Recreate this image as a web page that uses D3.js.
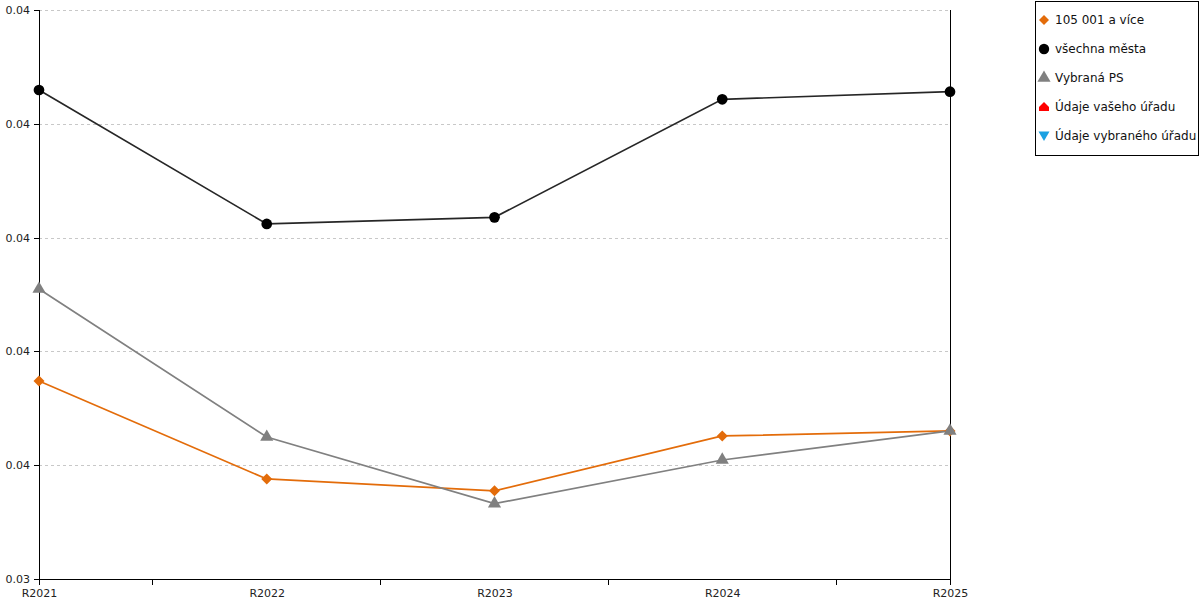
<!DOCTYPE html>
<html><head><meta charset="utf-8">
<script src="https://cdn.jsdelivr.net/npm/d3@7"></script>
<style>body{margin:0;background:#fff;font-family:"DejaVu Sans",Verdana,sans-serif;}</style>
</head><body><svg id="c" width="1200" height="600"></svg>
<script>
const categories = ["R2021","R2022","R2023","R2024","R2025"];
const seriesNames = ["105 001 a více","všechna města","Vybraná PS","Údaje vašeho úřadu","Údaje vybraného úřadu"];
const orangeValues = [0.035740, 0.034879, 0.034775, 0.035257, 0.035301];
const blackValues  = [0.038297, 0.037120, 0.037178, 0.038215, 0.038282];
const greyValues   = [0.036548, 0.035248, 0.034662, 0.035046, 0.035301];
const yTicks = [0.034, 0.035, 0.036, 0.037, 0.038, 0.039];

const svg = d3.select("#c");
const L = 39, R = 950, T = 10, B = 579;
const x = d3.scalePoint().domain(categories).range([L, R]);
const y = d3.scaleLinear().domain([0.034, 0.039]).range([B, T]);
const fmt = d => (Math.round(d*100)/100).toFixed(2);

// grid
svg.append("g").selectAll("line").data(yTicks.slice(1)).join("line")
  .attr("x1", L).attr("x2", R).attr("y1", d => Math.round(y(d))+0.5).attr("y2", d => Math.round(y(d))+0.5)
  .attr("stroke", "#c8c8c8").attr("stroke-dasharray", "3,3");

// y axis
const ya = svg.append("g").attr("transform", `translate(${L},0)`)
  .call(d3.axisLeft(y).tickValues(yTicks).tickFormat(fmt).tickSize(5).tickPadding(4));
ya.selectAll("text").attr("font-size", 11).attr("fill", "#222").attr("font-family","DejaVu Sans");
ya.select(".domain").attr("d", `M0,${T}V${B+6}`);
ya.selectAll("line,path").attr("shape-rendering","crispEdges");

// right axis line
svg.append("line").attr("x1", R).attr("x2", R).attr("y1", T).attr("y2", B+6)
  .attr("stroke", "#000").attr("shape-rendering","crispEdges");

// x axis
const xa = svg.append("g").attr("transform", `translate(0,${B})`)
  .call(d3.axisBottom(x).tickSize(0).tickPadding(10));
xa.selectAll("text").attr("font-size", 11).attr("fill", "#222").attr("font-family","DejaVu Sans");
xa.select(".domain").attr("d", `M${L},0H${R}`).attr("shape-rendering","crispEdges");
const mids = d3.pairs(categories).map(([a,b]) => (x(a)+x(b))/2);
xa.selectAll(".mt").data(mids).join("line").attr("class","mt")
  .attr("x1", d=>d).attr("x2", d=>d).attr("y1",0).attr("y2",6).attr("stroke","#000").attr("shape-rendering","crispEdges");

const line = d3.line().x((d,i) => x(categories[i])).y(d => y(d));
const diamond = "M0,-5.5L5.5,0L0,5.5L-5.5,0Z";
const series = [
  {vals: orangeValues, color: "#E36C0A", d: diamond},
  {vals: blackValues, color: "#000", d: d3.symbol().type(d3.symbolCircle).size(90)()},
  {vals: greyValues, color: "#808080", d: d3.symbol().type(d3.symbolTriangle).size(75)()},
];
series.forEach(s => {
  svg.append("path").datum(s.vals).attr("d", line).attr("fill","none")
    .attr("stroke", s.color).attr("stroke-width", 1.7).attr("stroke-opacity", s.color==="#000"?0.85:1);
});
series.forEach(s => {
  svg.append("g").selectAll("path").data(s.vals).join("path")
    .attr("transform", (d,i) => `translate(${x(categories[i])},${y(d)})`)
    .attr("d", s.d).attr("fill", s.color);
});

// legend
const lg = svg.append("g");
lg.append("rect").attr("x", 1035.5).attr("y", 1.5).attr("width", 163).attr("height", 154)
  .attr("fill","#fff").attr("stroke","#000");
const house = "M0,-5L5,0L5,4L-5,4L-5,0Z";
const legendItems = [
  {color:"#E36C0A", d: "M0,-5L5,0L0,5L-5,0Z"},
  {color:"#000", d: d3.symbol().type(d3.symbolCircle).size(85)()},
  {color:"#808080", d: d3.symbol().type(d3.symbolTriangle).size(75)()},
  {color:"#FF0000", d: house},
  {color:"#1BA1E2", d: "M-5.5,-4.5L5.5,-4.5L0,5Z"},
];
legendItems.forEach((it,i) => {
  const yy = 20 + i*29;
  lg.append("path").attr("transform", `translate(1044,${yy})`).attr("d", it.d).attr("fill", it.color);
  lg.append("text").attr("x", 1055).attr("y", yy+4).attr("font-size", 12).attr("fill","#111")
    .attr("font-family","DejaVu Sans").text(seriesNames[i]);
});
</script></body></html>
